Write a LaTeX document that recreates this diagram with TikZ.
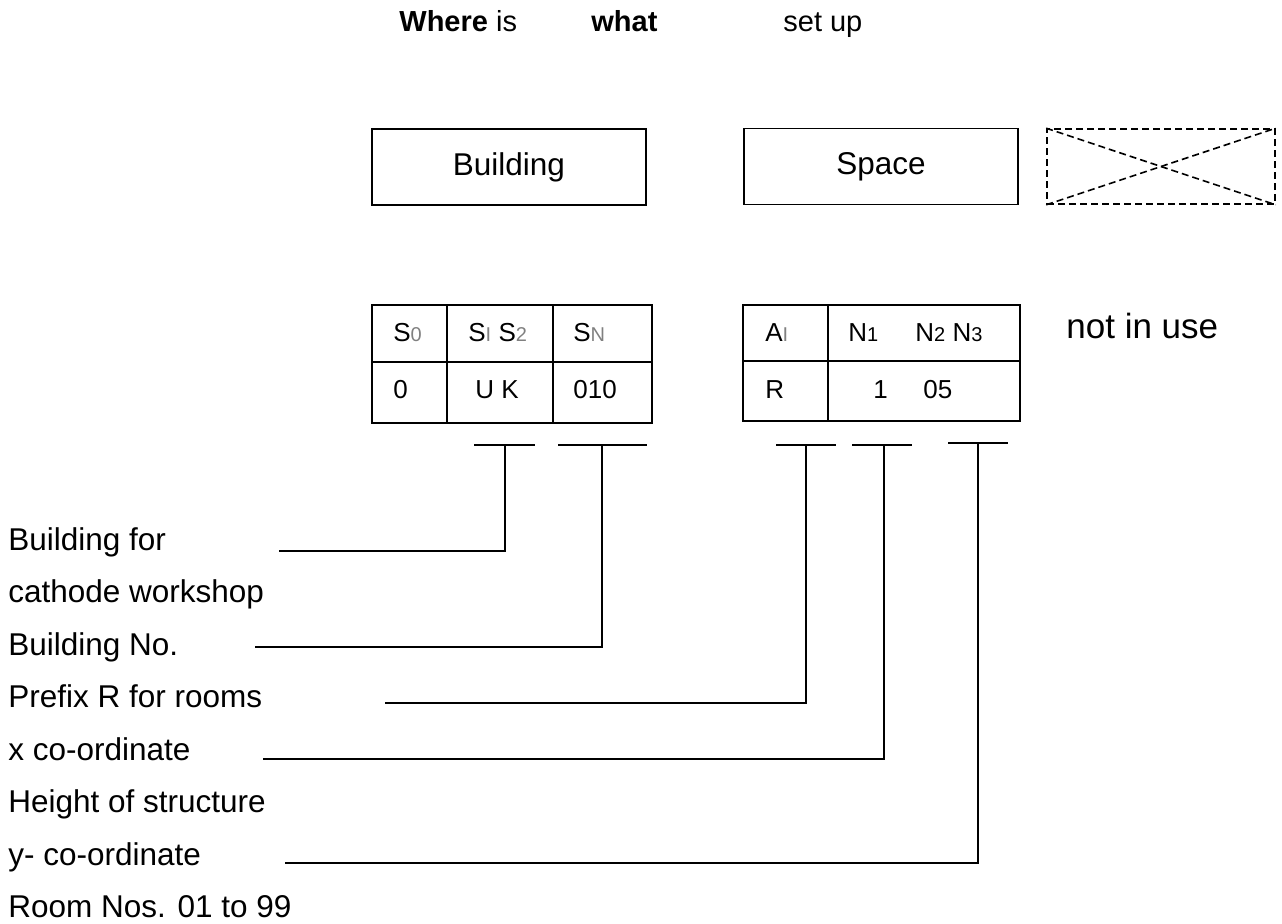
\documentclass[tikz,border=0pt]{standalone}
\usepackage{fontspec}
\setmainfont{Liberation Sans}
\usepackage{xcolor}
\usepackage{tikz}
\tikzstyle{lead} = [line width=0.8pt]
\tikzstyle{box} = [draw, line width=0.8pt, minimum width=137pt, minimum height=38pt, inner sep=0pt]
\tikzstyle{cell} = [draw, line width=0.8pt, inner sep=0pt, outer sep=0pt, minimum height=28.5pt]
\tikzstyle{lowcell} = [draw, line width=0.8pt, inner sep=0pt, outer sep=0pt, minimum height=30.5pt]
\tikzstyle{lbl} = [anchor=base west, inner sep=0pt]
\tikzstyle{entry} = [anchor=base west, inner sep=0pt, font=\fontsize{13}{16}\selectfont]
\tikzstyle{title} = [anchor=base west, inner sep=0pt, font=\fontsize{14.5}{17}\selectfont]
\newcommand{\smallidx}[1]{{\fontsize{10}{12}\selectfont #1}}
\newcommand{\grayidx}[1]{{\color{gray}\fontsize{10}{12}\selectfont #1}}
\usetikzlibrary{positioning}

\begin{document}
\begin{tikzpicture}[x=0.5pt, y=-0.5pt, font=\fontsize{15.75}{19}\selectfont]
        \useasboundingbox (0,0) rectangle (1282,923);

        \node (where) [title] at (399,31) {\textbf{Where} is};
        \node (what) [title] at (591,31) {\textbf{what}};
        \node (setup) [title] at (783,31) {set up};

        \node (bld) [box] at (509,167) {Building};
        \node (spc) [box] at (881,166.5) {Space};
        \node (unused) [box, dashed, dash pattern=on 3.5pt off 2pt, minimum width=114pt, minimum height=37.5pt] at (1161,166.5) {};
        \draw [lead, dash pattern=on 3.5pt off 2pt] (unused.north west) -- (unused.south east);
        \draw [lead, dash pattern=on 3.5pt off 2pt] (unused.south west) -- (unused.north east);

        \node (a0) [cell, anchor=north west, minimum width=37.5pt] at (372,305) {};
        \node (a1) [cell, right=0pt of a0, minimum width=53pt] {};
        \node (a2) [cell, right=0pt of a1, minimum width=49.5pt] {};
        \node (b0) [lowcell, below=0pt of a0, minimum width=37.5pt] {};
        \node (b1) [lowcell, below=0pt of a1, minimum width=53pt] {};
        \node (b2) [lowcell, below=0pt of a2, minimum width=49.5pt] {};

        \node (c0) [cell, anchor=north west, minimum width=42.5pt, minimum height=28pt] at (743,305) {};
        \node (c1) [cell, right=0pt of c0, minimum width=96pt, minimum height=28pt] {};
        \node (d0) [lowcell, below=0pt of c0, minimum width=42.5pt, minimum height=30pt] {};
        \node (d1) [lowcell, below=0pt of c1, minimum width=96pt, minimum height=30pt] {};

        \node (s0) [entry] at (393,341) {S\grayidx{0}};
        \node (s12) [entry] at (468,341) {S\grayidx{I} S\grayidx{2}};
        \node (sn) [entry] at (573,341) {S\grayidx{N}};
        \node (ai) [entry] at (765,341) {A\grayidx{I}};
        \node (n1) [entry] at (848,341) {N\smallidx{1}};
        \node (n23) [entry] at (915,341) {N\smallidx{2} N\smallidx{3}};
        \node (v0) [entry] at (393,398) {0};
        \node (vuk) [entry] at (475,398) {U K};
        \node (vbno) [entry] at (573,398) {010};
        \node (vr) [entry] at (765,398) {R};
        \node (vx) [entry] at (873,398) {1};
        \node (vy) [entry] at (923,398) {05};
        \node (notuse) [lbl, font=\fontsize{17.5}{21}\selectfont] at (1066,338) {not in use};

        \node (lblBldFor) [lbl] at (8,550) {Building for};
        \node (lblCathode) [lbl] at (8,602.5) {cathode workshop};
        \node (lblBldNo) [lbl] at (8,655) {Building No.};
        \node (lblPrefix) [lbl] at (8,707.5) {Prefix R for rooms};
        \node (lblX) [lbl] at (8,760) {x co-ordinate};
        \node (lblHeight) [lbl] at (8,812.5) {Height of structure};
        \node (lblY) [lbl] at (8,865) {y- co-ordinate};
        \node (lblRoom) [lbl] at (8,917.5) {Room Nos. 01 to 99};

        \coordinate (tUK) at (505,445);
        \coordinate (tSN) at (602,445);
        \coordinate (tR) at (806,445);
        \coordinate (tN1) at (884,445);
        \coordinate (tN3) at (978,443);
        \coordinate (eUK) at (279,551);
        \coordinate (eSN) at (255,647);
        \coordinate (eR) at (385,703);
        \coordinate (eN1) at (263,759);
        \coordinate (eN3) at (285,863);

        \draw [lead] (474,445) -- (535,445);
        \draw [lead] (558,445) -- (647,445);
        \draw [lead] (776,445) -- (836,445);
        \draw [lead] (852,445) -- (912,445);
        \draw [lead] (948,443) -- (1008,443);

        \draw [lead] (tUK) |- (eUK);
        \draw [lead] (tSN) |- (eSN);
        \draw [lead] (tR) |- (eR);
        \draw [lead] (tN1) |- (eN1);
        \draw [lead] (tN3) |- (eN3);
    \end{tikzpicture}
\end{document}
